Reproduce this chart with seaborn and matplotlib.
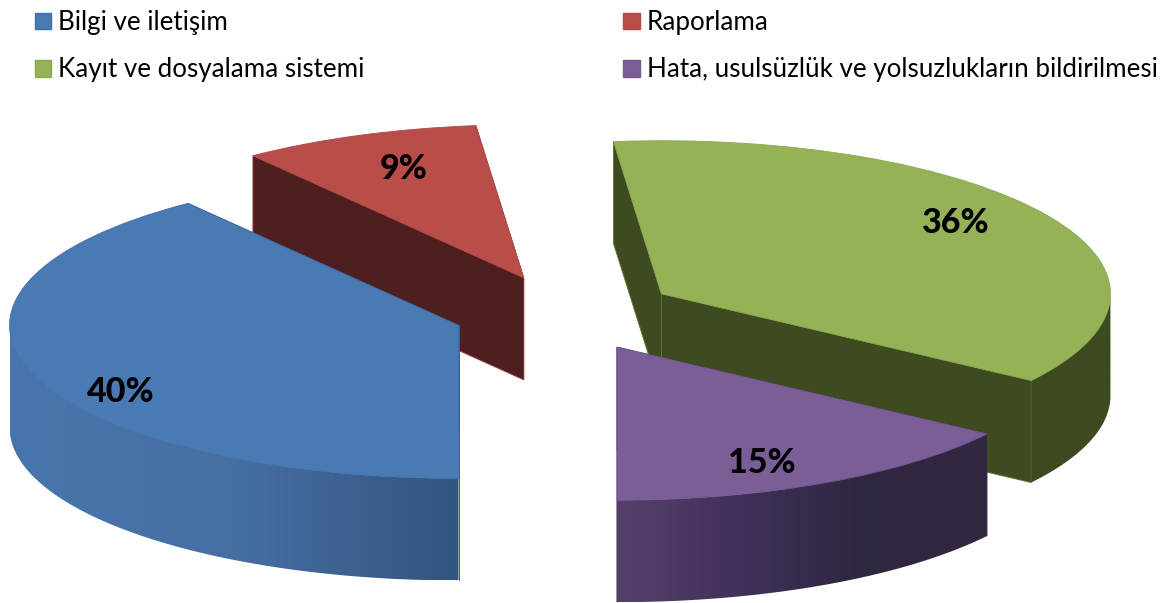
import numpy as np
import matplotlib
matplotlib.use("Agg")
import matplotlib.pyplot as plt
from matplotlib.patches import Patch, Polygon
import seaborn as sns

# ---- data ----
categories = ["Bilgi ve iletişim", "Raporlama", "Kayıt ve dosyalama sistemi",
              "Hata, usulsüzlük ve yolsuzlukların bildirilmesi"]
shares = [39.7, 8.6, 36.3, 15.4]

# ---- styles / layout ----
W, H = 1168, 603
A, B = 449.0, 153.0          # pixel semi-axes of the flattened pie
CX, CY = 565.0, 313.3        # pixel position of the pie centre
DEPTH = 102.0 / B            # extrusion in data units
EXPLODE = 0.25
top_colors = ["#4a7ab4", "#b94d4a", "#96b257", "#7b5d98"]
edge_colors = ["#3f6da6", "#b04845", "#8aa84e", "#745790"]
wall_colors = ["#3a6090", "#4e1f1e", "#3e4a20", "#332841"]
wall_edges = ["#3a6090", "#8a3a38", "#5f7632", "#4a3a60"]
rim_ramps = [["#4776ae", "#466fa2", "#33547f"],
             ["#4e1f1e", "#4e1f1e"],
             ["#3e4a20", "#3e4a20"],
             ["#55406c", "#40315a", "#2f2640", "#332841"]]
layer = [4, 0, 2, 6]         # painter's order (back to front)
label_offsets = [(-0.753, -0.438), (-0.267, 0.712), (0.655, 0.464), (0.323, -0.759)]

sns.set_theme(style="white")
plt.rcParams["font.family"] = ["Lato", "DejaVu Sans"]

fig = plt.figure(figsize=(W / 100, H / 100), dpi=100)
ax = fig.add_axes([0, 0, 1, 1])

wedges, _, pcts = ax.pie(shares, explode=[EXPLODE] * len(shares), startangle=270,
                         counterclock=False, colors=sns.color_palette(top_colors),
                         autopct="%.0f%%", normalize=True,
                         textprops=dict(fontsize=24.5, fontweight=900, color="black"))
ax.axis("off")


def ring(w, t):
    return w.center[0] + w.r * np.cos(np.radians(t)), w.center[1] + w.r * np.sin(np.radians(t))


for i, w in enumerate(wedges):
    w.set_zorder(layer[i] + 1.5)
    w.set_edgecolor(edge_colors[i])
    w.set_linewidth(0.6)
    cx, cy = w.center
    # radial walls
    for t in (w.theta1, w.theta2):
        x, y = ring(w, t)
        ax.add_patch(Polygon([(cx, cy), (x, y), (x, y - DEPTH), (cx, cy - DEPTH)],
                             closed=True, facecolor=wall_colors[i], edgecolor=wall_edges[i],
                             linewidth=0.7, zorder=layer[i]))
    # outer rim, shaded from left to right with a clipped gradient
    ts = np.linspace(w.theta1, w.theta2, 400)
    ts = ts[np.sin(np.radians(ts)) <= 1e-9]
    if len(ts) > 1:
        xs, ys = ring(w, ts)
        outline = np.vstack([np.column_stack([xs, ys]),
                             np.column_stack([xs[::-1], ys[::-1] - DEPTH])])
        clip = Polygon(outline, closed=True, transform=ax.transData, facecolor="none", edgecolor="none")
        ax.add_patch(clip)
        shades = np.array(sns.blend_palette(rim_ramps[i], 256))[None, :, :]
        im = ax.imshow(shades, extent=(xs.min(), xs.max(), ys.min() - DEPTH, ys.max()),
                       aspect="auto", origin="lower", interpolation="bilinear",
                       zorder=layer[i] + 1)
        im.set_clip_path(clip)
    pcts[i].set_position((cx + label_offsets[i][0], cy + label_offsets[i][1]))
    pcts[i].set_zorder(20)

ax.set_aspect("auto")
ax.set_xlim(-CX / A, (W - CX) / A)
ax.set_ylim((CY - H) / B, CY / B)

order = [0, 2, 1, 3]
handles = [Patch(facecolor=top_colors[k], edgecolor=edge_colors[k], linewidth=1.0) for k in order]
fig.legend(handles, [categories[k] for k in order], ncol=2, frameon=False,
           loc="upper left", bbox_to_anchor=(0.0097, 1.022),
           fontsize=18.7, labelcolor="black", handlelength=0.62, handleheight=0.62,
           handletextpad=0.27, labelspacing=0.86, columnspacing=9.98, borderpad=0.4)

fig.savefig("out.png", dpi=100)
